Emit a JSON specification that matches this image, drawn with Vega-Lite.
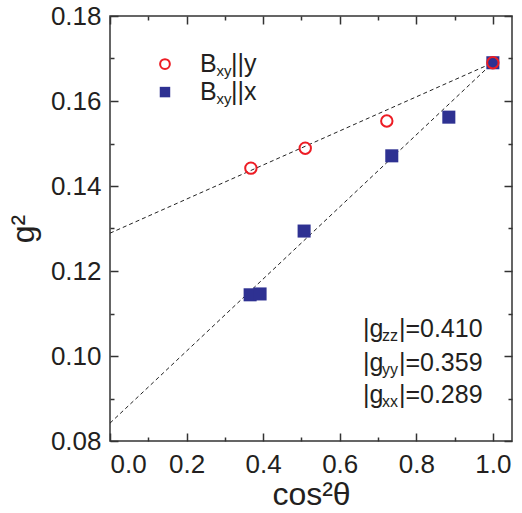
{
  "$schema": "https://vega.github.io/schema/vega-lite/v6.json",
  "autosize": "none",
  "width": 402,
  "height": 425,
  "padding": {"left": 110, "top": 16, "right": 10, "bottom": 72},
  "background": "white",
  "config": {
    "view": {"stroke": "#333333", "strokeWidth": 1.5},
    "axis": {"domain": false, "grid": false, "tickColor": "#333333", "tickWidth": 1.5, "labelFont": "Liberation Sans", "titleFont": "Liberation Sans", "labelColor": "#231f20", "titleColor": "#231f20", "titleFontWeight": "normal"}
  },
  "resolve": {"axis": {"x": "independent", "y": "independent"}},
  "datasets": {
    "fits": [
      {"series": "y", "x": 0.0, "g2": 0.1289},
      {"series": "y", "x": 1.0, "g2": 0.1690},
      {"series": "x", "x": 0.0, "g2": 0.0842},
      {"series": "x", "x": 1.0, "g2": 0.1690}
    ],
    "circles": [
      {"x": 0.368, "g2": 0.1442},
      {"x": 0.510, "g2": 0.1489},
      {"x": 0.723, "g2": 0.1553},
      {"x": 1.0, "g2": 0.1690}
    ],
    "squares": [
      {"x": 0.366, "g2": 0.1144},
      {"x": 0.392, "g2": 0.1146},
      {"x": 0.507, "g2": 0.1294},
      {"x": 0.736, "g2": 0.1471},
      {"x": 0.885, "g2": 0.1562},
      {"x": 1.0, "g2": 0.1690}
    ],
    "legendSymbols": [
      {"series": "y", "x": 0.1436, "g2": 0.1687},
      {"series": "x", "x": 0.1436, "g2": 0.1621}
    ],
    "legendText": [
      {"x": 0.235, "g2": 0.1668, "main": "B", "sub": "xy", "tail": "||y"},
      {"x": 0.235, "g2": 0.1602, "main": "B", "sub": "xy", "tail": "||x"}
    ],
    "notes": [
      {"x": 0.6606, "g2": 0.10454, "sub": "zz", "tail": "|=0.410"},
      {"x": 0.6606, "g2": 0.09647, "sub": "yy", "tail": "|=0.359"},
      {"x": 0.6606, "g2": 0.08901, "sub": "xx", "tail": "|=0.289"}
    ]
  },
  "layer": [
    {
      "data": {"name": "fits"},
      "mark": {"type": "line", "color": "#222222", "strokeWidth": 1, "strokeDash": [4, 3]},
      "encoding": {
        "x": {"field": "x", "type": "quantitative", "scale": {"domain": [0, 1.05], "nice": false, "zero": false},
          "axis": {"orient": "bottom", "values": [0, 0.2, 0.4, 0.6, 0.8, 1.0], "format": ".1f", "tickSize": -8, "labelPadding": 18, "labelFontSize": 26, "title": "cos²θ", "titleFontSize": 32, "titlePadding": 2}},
        "y": {"field": "g2", "type": "quantitative", "scale": {"domain": [0.08, 0.18], "nice": false, "zero": false},
          "axis": {"orient": "left", "values": [0.08, 0.10, 0.12, 0.14, 0.16, 0.18], "format": ".2f", "tickSize": -8, "labelPadding": 17, "labelFontSize": 26, "title": "g²", "titleFontSize": 32, "titlePadding": 10}},
        "detail": {"field": "series"}
      }
    },
    {
      "data": {"name": "squares"},
      "mark": {"type": "square", "filled": true, "color": "#2e3192", "opacity": 1, "size": 170},
      "encoding": {
        "x": {"field": "x", "type": "quantitative", "scale": {"domain": [0, 1.05], "nice": false, "zero": false},
          "axis": {"orient": "top", "values": [0, 0.2, 0.4, 0.6, 0.8, 1.0], "labels": false, "tickSize": -8, "title": null}},
        "y": {"field": "g2", "type": "quantitative", "scale": {"domain": [0.08, 0.18], "nice": false, "zero": false},
          "axis": {"orient": "right", "values": [0.08, 0.10, 0.12, 0.14, 0.16, 0.18], "labels": false, "tickSize": -8, "title": null}}
      }
    },
    {
      "data": {"name": "circles"},
      "mark": {"type": "point", "shape": "circle", "filled": false, "color": "#ed1c24", "strokeWidth": 2, "opacity": 1, "size": 130},
      "encoding": {
        "x": {"field": "x", "type": "quantitative", "scale": {"domain": [0, 1.05], "nice": false, "zero": false},
          "axis": {"orient": "bottom", "values": [0.1, 0.3, 0.5, 0.7, 0.9], "labels": false, "tickSize": -4, "title": null}},
        "y": {"field": "g2", "type": "quantitative", "scale": {"domain": [0.08, 0.18], "nice": false, "zero": false},
          "axis": {"orient": "left", "values": [0.09, 0.11, 0.13, 0.15, 0.17], "labels": false, "tickSize": -4, "title": null}}
      }
    },
    {
      "data": {"name": "legendSymbols"},
      "transform": [{"filter": "datum.series === 'y'"}],
      "mark": {"type": "point", "shape": "circle", "filled": false, "color": "#ed1c24", "strokeWidth": 2, "opacity": 1, "size": 95},
      "encoding": {
        "x": {"field": "x", "type": "quantitative", "scale": {"domain": [0, 1.05], "nice": false, "zero": false},
          "axis": {"orient": "top", "values": [0.1, 0.3, 0.5, 0.7, 0.9], "labels": false, "tickSize": -4, "title": null}},
        "y": {"field": "g2", "type": "quantitative", "scale": {"domain": [0.08, 0.18], "nice": false, "zero": false},
          "axis": {"orient": "right", "values": [0.09, 0.11, 0.13, 0.15, 0.17], "labels": false, "tickSize": -4, "title": null}}
      }
    },
    {
      "data": {"name": "legendSymbols"},
      "transform": [{"filter": "datum.series === 'x'"}],
      "mark": {"type": "square", "filled": true, "color": "#2e3192", "opacity": 1, "size": 110},
      "encoding": {
        "x": {"field": "x", "type": "quantitative", "axis": null},
        "y": {"field": "g2", "type": "quantitative", "axis": null}
      }
    },
    {
      "data": {"name": "legendText"},
      "mark": {"type": "text", "align": "left", "baseline": "alphabetic", "font": "Liberation Sans", "fontSize": 25, "color": "#231f20"},
      "encoding": {
        "x": {"field": "x", "type": "quantitative", "axis": null},
        "y": {"field": "g2", "type": "quantitative", "axis": null},
        "text": {"field": "main"}
      }
    },
    {
      "data": {"name": "legendText"},
      "mark": {"type": "text", "align": "left", "baseline": "alphabetic", "font": "Liberation Sans", "fontSize": 15, "dx": 16.5, "dy": 4, "color": "#231f20"},
      "encoding": {
        "x": {"field": "x", "type": "quantitative", "axis": null},
        "y": {"field": "g2", "type": "quantitative", "axis": null},
        "text": {"field": "sub"}
      }
    },
    {
      "data": {"name": "legendText"},
      "mark": {"type": "text", "align": "left", "baseline": "alphabetic", "font": "Liberation Sans", "fontSize": 25, "dx": 31, "color": "#231f20"},
      "encoding": {
        "x": {"field": "x", "type": "quantitative", "axis": null},
        "y": {"field": "g2", "type": "quantitative", "axis": null},
        "text": {"field": "tail"}
      }
    },
    {
      "data": {"name": "notes"},
      "mark": {"type": "text", "align": "left", "baseline": "alphabetic", "font": "Liberation Sans", "fontSize": 25, "color": "#231f20", "text": "|g"},
      "encoding": {
        "x": {"field": "x", "type": "quantitative", "axis": null},
        "y": {"field": "g2", "type": "quantitative", "axis": null}
      }
    },
    {
      "data": {"name": "notes"},
      "mark": {"type": "text", "align": "left", "baseline": "alphabetic", "font": "Liberation Sans", "fontSize": 16, "dx": 19, "dy": 4, "color": "#231f20"},
      "encoding": {
        "x": {"field": "x", "type": "quantitative", "axis": null},
        "y": {"field": "g2", "type": "quantitative", "axis": null},
        "text": {"field": "sub"}
      }
    },
    {
      "data": {"name": "notes"},
      "mark": {"type": "text", "align": "left", "baseline": "alphabetic", "font": "Liberation Sans", "fontSize": 25, "dx": 36, "color": "#231f20"},
      "encoding": {
        "x": {"field": "x", "type": "quantitative", "axis": null},
        "y": {"field": "g2", "type": "quantitative", "axis": null},
        "text": {"field": "tail"}
      }
    }
  ]
}
